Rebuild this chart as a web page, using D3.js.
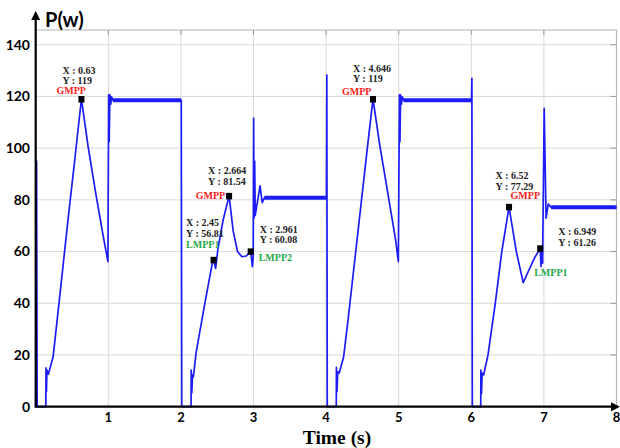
<!DOCTYPE html>
<html>
<head>
<meta charset="utf-8">
<script src="https://cdn.jsdelivr.net/npm/d3@7"></script>
<style>
  body { margin: 0; background: #fff; }
  svg { display: block; }
</style>
</head>
<body>
<svg></svg>
<script>

// power trace: [time (s), P (W)]
const seg1 = [
	[0.000, 0], [0.012, 95], [0.020, 0], [0.140, 0], [0.142, 15], [0.148, 5.8], [0.155, 14.2],
	[0.175, 12.6], [0.240, 19.3], [0.340, 45], [0.440, 71], [0.540, 96],
	[0.630, 119], [0.720, 101], [0.830, 82], [0.930, 66], [0.995, 56.1], [1.005, 120.6],
	[1.012, 102.5], [1.022, 120.6], [1.034, 117], [1.046, 119.8], [1.065, 118.5], [2.005, 118.5],
	[2.012, 0]
]
const seg2 = [
	[2.012, 0], [2.140, 0], [2.142, 14.2], [2.150, 5.3], [2.160, 12.3], [2.172, 11.5],
	[2.210, 21], [2.330, 40], [2.445, 57.4], [2.478, 53.5], [2.510, 61], [2.580, 72],
	[2.664, 81.54], [2.720, 68], [2.780, 60], [2.840, 58], [2.900, 58.3], [2.961, 60.08],
	[2.985, 54.2], [2.996, 58], [3.002, 111.6], [3.008, 73], [3.016, 95], [3.024, 74],
	[3.090, 85.4], [3.120, 78.9], [3.150, 80.8], [4.005, 80.8], [4.010, 128.3], [4.016, 0]
]
const seg3 = [
	[4.016, 0], [4.140, 0], [4.142, 15.2], [4.150, 5.8], [4.160, 13.5], [4.180, 13],
	[4.240, 19], [4.300, 33], [4.400, 58], [4.500, 83], [4.580, 103], [4.646, 119],
	[4.740, 101], [4.860, 81], [4.960, 64], [4.995, 56.1], [5.010, 120.6], [5.017, 102.5],
	[5.026, 120.6], [5.038, 117], [5.050, 119.8], [5.070, 118.5], [6.003, 118.5],
	[6.008, 127], [6.014, 0]
]
const seg4 = [
	[6.014, 0], [6.130, 0], [6.132, 14.2], [6.140, 5], [6.150, 13], [6.170, 12.3],
	[6.230, 20], [6.330, 40], [6.420, 60], [6.520, 77.29], [6.620, 60], [6.715, 48],
	[6.780, 52], [6.870, 57.5], [6.949, 61.26], [6.960, 54.2], [6.970, 61], [6.982, 55.5],
	[7.004, 115.4], [7.030, 72.9], [7.060, 78.4], [7.100, 77.1], [8.000, 77.1]
]

// steady-state (noisy) plateaus: [t start, t end, P]
const steady = [[1.065, 2.005, 118.5], [3.15, 4.005, 80.8], [5.07, 6.003, 118.5], [7.1, 8.0, 77.1]]

// marked MPP points
const mppX = [0.63, 2.45, 2.664, 2.961, 4.646, 6.52, 6.949]
const mppY = [119, 56.81, 81.54, 60.08, 119, 77.29, 61.26]
const mppXText = ['0.63', '2.45', '2.664', '2.961', '4.646', '6.52', '6.949']
const mppYText = ['119', '56.81', '81.54', '60.08', '119', '77.29', '61.26']
const mppTag = ['GMPP', 'LMPP1', 'GMPP', 'LMPP2', 'GMPP', 'GMPP', 'LMPP1']

const xTicks = [1, 2, 3, 4, 5, 6, 7, 8]
const yTicks = [0, 20, 40, 60, 80, 100, 120, 140]

// label placement around each marker (px): xy text left/top, tag pos & anchor
const labelPos = [
	{ tx: -19, ty: -29, gx: -25, gy: -9, ga: 'start' },
	{ tx: -27.5, ty: -37, gx: -27.5, gy: -15, ga: 'start' },
	{ tx: -21, ty: -25, gx: -4, gy: 0, ga: 'end' },
	{ tx: 9, ty: -22, gx: 8, gy: 6, ga: 'start' },
	{ tx: -20, ty: -31, gx: -31, gy: -8, ga: 'start' },
	{ tx: -13.5, ty: -31, gx: 1.5, gy: -11, ga: 'start' },
	{ tx: 18, ty: -16.5, gx: -6, gy: 24.5, ga: 'start' }
]

let width = 620, height = 448
let x0 = 35.7, x1 = 616.5, yTop = 30, yBot = 406.7

let scX = d3.scaleLinear().domain([0, 8]).range([x0, x1])
let scY = d3.scaleLinear().domain([0, 145.7]).range([yBot, yTop])

let svg = d3.select('svg').attr('width', width).attr('height', height)

// grid
let grid = svg.append('g').attr('stroke', '#d9d9d9').attr('stroke-width', 1)
grid.selectAll('.gx').data(xTicks).enter().append('line')
.attr('x1', d => scX(d)).attr('x2', d => scX(d))
.attr('y1', yTop).attr('y2', yBot)
grid.selectAll('.gy').data(yTicks.slice(1)).enter().append('line')
.attr('x1', x0).attr('x2', x1)
.attr('y1', d => scY(d)).attr('y2', d => scY(d))

// top / right frame with small inner ticks
svg.append('path')
.attr('d', `M${x0},${yTop}H${x1}V${yBot}`)
.attr('fill', 'none').attr('stroke', '#b5b5b5').attr('stroke-width', 1.2)
svg.append('g').selectAll('line').data(yTicks.slice(1)).enter().append('line')
.attr('x1', x1 - 6).attr('x2', x1)
.attr('y1', d => scY(d)).attr('y2', d => scY(d))
.attr('stroke', '#999')
svg.append('g').selectAll('line').data(xTicks.slice(0, 7)).enter().append('line')
.attr('x1', d => scX(d)).attr('x2', d => scX(d))
.attr('y1', yTop).attr('y2', yTop + 5)
.attr('stroke', '#999')

// trace
let lineMkr = d3.line().x(d => scX(d[0])).y(d => scY(d[1]))

svg.append('g').selectAll('path.seg')
.data([seg1, seg2, seg3, seg4]).enter().append('path')
.attr('fill', 'none')
.attr('stroke', '#1c1cf5')
.attr('stroke-width', 1.7)
.attr('stroke-linejoin', 'round')
.attr('d', lineMkr)

svg.append('g').selectAll('line').data(steady).enter().append('line')
.attr('x1', d => scX(d[0])).attr('x2', d => scX(d[1]))
.attr('y1', d => scY(d[2])).attr('y2', d => scY(d[2]))
.attr('stroke', '#1c1cf5').attr('stroke-width', 4)

// axes
let axes = svg.append('g').attr('stroke', '#000').attr('stroke-width', 2.2)
axes.append('line').attr('x1', x0).attr('x2', 613).attr('y1', yBot).attr('y2', yBot)
axes.append('line').attr('x1', x0).attr('x2', x0).attr('y1', yBot + 1).attr('y2', 18)
svg.append('path').attr('d', `M620,${yBot}l-9,-4.5v9z`).attr('fill', '#000')
svg.append('path').attr('d', `M${x0},11l-4.5,9h9z`).attr('fill', '#000')

let tickFont = 'Lato, "Open Sans", sans-serif'

svg.append('g').selectAll('text').data(yTicks).enter().append('text')
.attr('x', 30).attr('y', d => scY(d)).attr('dy', '0.35em')
.attr('text-anchor', 'end')
.attr('font-family', tickFont).attr('font-weight', 'bold').attr('font-size', 14)
.text(d => d)

svg.append('g').selectAll('text').data(xTicks).enter().append('text')
.attr('x', d => scX(d)).attr('y', 417).attr('dy', '0.35em')
.attr('text-anchor', 'middle')
.attr('font-family', tickFont).attr('font-weight', 'bold').attr('font-size', 13)
.text(d => d)

svg.append('text')
.attr('x', 45).attr('y', 27)
.attr('font-family', tickFont).attr('font-weight', 'bold').attr('font-size', 20)
.text('P(w)')

svg.append('text')
.attr('x', 337).attr('y', 443.5).attr('text-anchor', 'middle')
.attr('font-family', '"Liberation Serif", serif').attr('font-weight', 'bold').attr('font-size', 19.5)
.text('Time (s)')

// MPP markers and labels
let ann = svg.append('g').selectAll('g')
.data(mppX.map((t, i) => i)).enter().append('g')
.attr('transform', i => `translate(${scX(mppX[i])},${scY(mppY[i])})`)
.attr('font-family', '"Liberation Serif", serif')
.attr('font-weight', 'bold')
.attr('font-size', 10)

ann.append('rect')
.attr('x', -3).attr('y', -3).attr('width', 6).attr('height', 6.5)
.attr('fill', '#000')

ann.append('text')
.attr('x', i => labelPos[i].tx).attr('y', i => labelPos[i].ty).attr('dy', '0.35em')
.attr('fill', '#222')
.text(i => 'X : ' + mppXText[i])

ann.append('text')
.attr('x', i => labelPos[i].tx).attr('y', i => labelPos[i].ty + 10.5).attr('dy', '0.35em')
.attr('fill', '#222')
.text(i => 'Y : ' + mppYText[i])

ann.append('text')
.attr('x', i => labelPos[i].gx).attr('y', i => labelPos[i].gy).attr('dy', '0.35em')
.attr('text-anchor', i => labelPos[i].ga)
.attr('fill', i => mppTag[i] == 'GMPP' ? '#ff1a1a' : '#1fa84a')
.text(i => mppTag[i])

</script>
</body>
</html>
